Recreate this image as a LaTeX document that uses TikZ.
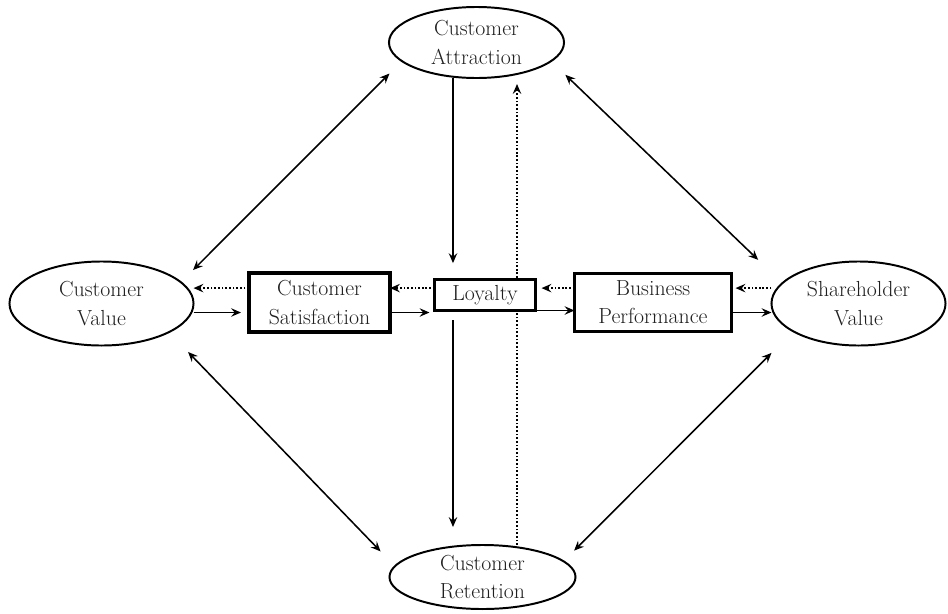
\documentclass[tikz,border=0pt]{standalone}
\usepackage{fontspec}
\usepackage{tikz}
\usetikzlibrary{arrows.meta}
\usetikzlibrary{positioning}
\usetikzlibrary{shapes.geometric}

\begin{document}
\begin{tikzpicture}[x=0.025cm, y=-0.025cm,
font=\fontsize{15.5}{20}\selectfont,
goal/.style={ellipse, draw, line width=1.4pt, inner sep=0pt, outer sep=0pt, align=center, text=black!88},
driver/.style={rectangle, draw, line width=2.2pt, fill=white, inner sep=0pt, outer sep=0pt, align=center, text=black!88},
arr/.style={-{Stealth[length=7pt,width=6pt,inset=2.5pt]}, line width=1.2pt},
dots/.style={line width=1.2pt, dash pattern=on 1.2pt off 1.4pt},
back/.style={arr, dots},
dbl/.style={{Stealth[length=7pt,width=6pt,inset=2.5pt]}-{Stealth[length=7pt,width=6pt,inset=2.5pt]}, line width=1.1pt}]
\def\lo{-0.25cm}
\def\hi{0.36cm}
\def\off{0.8cm}
\useasboundingbox (0,0) rectangle (948,613);

\node[goal, minimum width=4.375cm, minimum height=1.775cm] (CA) at (476.5,42.5) {Customer\\Attraction};
\node[goal, minimum width=4.6cm, minimum height=2.1cm] (CV) at (101.5,303.5) {Customer\\Value};
\node[goal, minimum width=4.35cm, minimum height=2.1cm] (SV) at (858.5,303.5) {Shareholder\\Value};
\node[goal, minimum width=4.65cm, minimum height=1.6cm] (CR) at (482.5,577) {Customer\\Retention};

\node[driver, minimum width=3.525cm, minimum height=1.475cm] (CS) at (319.5,302.5) {Customer\\Satisfaction};
\node[driver, minimum width=2.525cm, minimum height=0.775cm] (LY) at (485,295) {Loyalty};
\node[driver, minimum width=3.925cm, minimum height=1.45cm] (BP) at (653,302.5) {Business\\Performance};

% attraction - loyalty - retention
\draw[arr, shorten >=0.41cm] ([xshift=-\off]LY.north |- CA.south) -- ([xshift=-\off]LY.north);
\draw[arr, shorten <=0.24cm, shorten >=0.45cm] ([xshift=-\off]LY.south) -- ([xshift=-\off]LY.south |- CR.north);
\draw[dots, shorten >=1.2pt] ([xshift=\off]LY.south |- CR.north) -- ([xshift=\off]LY.south);
\draw[back, shorten <=1.2pt, shorten >=0.15cm] ([xshift=\off]LY.north) -- ([xshift=\off]LY.north |- CA.south);

% middle row
\draw[arr, shorten >=0.2cm] ([yshift=\lo]CS.west -| CV.east) -- ([yshift=\lo]CS.west);
\draw[back] ([yshift=\hi]CS.west) -- ([yshift=\hi]CS.west -| CV.east);
\draw[arr, shorten >=0.125cm] ([yshift=\lo]CS.east) -- ([yshift=\lo]CS.east -| LY.west);
\draw[back] ([yshift=\hi]CS.east -| LY.west) -- ([yshift=\hi]CS.east);
\draw[arr] (LY.south east) -- (LY.south east -| BP.west);
\draw[back, shorten >=0.15cm] ([yshift=\hi]BP.west) -- ([yshift=\hi]BP.west -| LY.east);
\draw[arr] ([yshift=\lo]BP.east) -- ([yshift=\lo]BP.east -| SV.west);
\draw[back, shorten >=0.1cm] ([yshift=\hi]BP.east -| SV.west) -- ([yshift=\hi]BP.east);

% outer diamond
\draw[dbl, shorten <=0.43cm, shorten >=0.44cm] (CV.15.1) -- (CA.194.4);
\draw[dbl, shorten <=0.495cm, shorten >=0.84cm] (CA.-14.2) -- (SV.165.2);
\draw[dbl, shorten <=0.69cm, shorten >=0.515cm] (CV.-23.1) -- (CR.173.5);
\draw[dbl, shorten <=0.765cm, shorten >=0.375cm] (SV.203.4) -- (CR.11.6);
\end{tikzpicture}
\end{document}
